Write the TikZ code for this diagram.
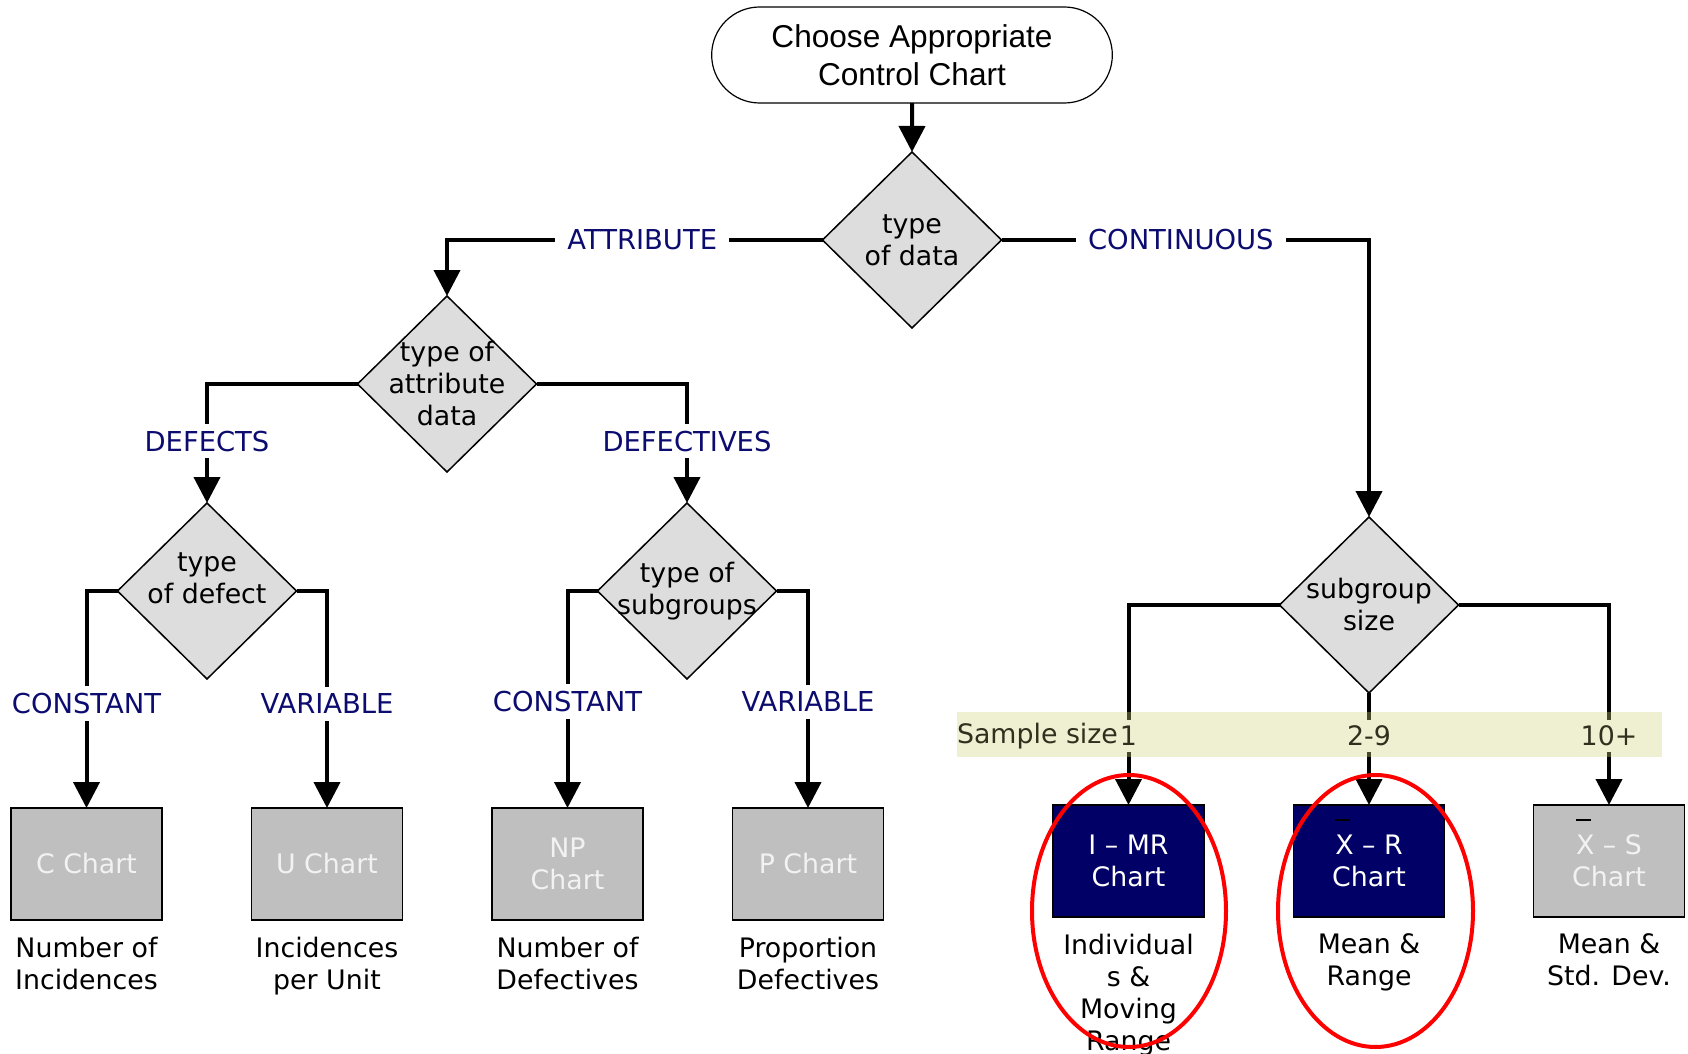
\documentclass[tikz,border=0pt]{standalone}
\usepackage{fontspec}
\setmainfont{DejaVu Sans}
\newfontfamily\arialfont{Liberation Sans}
\usetikzlibrary{shapes.geometric,shapes.misc,arrows.meta,positioning}
\definecolor{diafill}{RGB}{221,221,221}
\definecolor{chartgrey}{RGB}{191,191,191}
\definecolor{chartnavy}{RGB}{0,0,102}
\definecolor{lblnavy}{RGB}{12,12,112}
\definecolor{bandbg}{RGB}{239,239,209}
\definecolor{bandink}{RGB}{209,209,126}
\definecolor{bandtext}{RGB}{48,48,30}
\def\meanx{\rlap{\smash{\color{black}\rule[1.25em]{0.54em}{1pt}}}X}

\begin{document}
\begin{tikzpicture}[x=0.5pt, y=-0.5pt,
	every node/.style={font=\fontsize{13.4pt}{16pt}\selectfont, outer sep=0pt},
	start/.style={rounded rectangle, draw, line width=0.6pt, minimum width=207pt, minimum height=48pt, align=center, font=\arialfont\fontsize{15.8pt}{19pt}\selectfont},
	decision/.style={diamond, draw, line width=0.75pt, fill=diafill, minimum width=89.5pt, minimum height=88pt, inner sep=0pt},
	dtext/.style={align=center, inner sep=0pt, text=black},
	chart/.style={rectangle, draw, line width=0.8pt, fill=chartgrey, text=white!95!black, minimum width=75.5pt, minimum height=56pt, align=center, inner sep=0pt},
	keychart/.style={chart, fill=chartnavy, text=white},
	desc/.style={below=8.5pt of #1, align=center, inner sep=0pt},
	link/.style={line width=2pt, -{Triangle[length=13pt, width=13pt]}},
	lbl/.style={fill=white, text=lblnavy, inner xsep=6pt, inner ysep=3.5pt, font=\fontsize{13.7pt}{16pt}\selectfont},
	bandlbl/.style={fill=bandbg, text=bandtext, inner xsep=1pt, inner ysep=3pt},
	hilite/.style={draw=red, line width=2pt}]
			%%%%% START %%%%%
			\useasboundingbox (0,0) rectangle (1688,1054);
			
			\node[start] (start) at (912,55) {Choose Appropriate\\Control Chart};
			
			\node[decision, label={[dtext]center:type\\of data}] (data) at (912,240) {};
			\node[decision, label={[dtext]center:type of\\attribute\\data}] (attr) at (447,384) {};
			\node[decision, label={[dtext, yshift=6.5pt]center:type\\of defect}] (defect) at (207,591) {};
			\node[decision, label={[dtext]center:type of\\subgroups}] (subgrp) at (687,591) {};
			\node[decision, label={[dtext]center:subgroup\\size}] (size) at (1369,605) {};
			
			\node[chart] (c) at (86.5,864) {C Chart};
			\node[chart] (u) at (327,864) {U Chart};
			\node[chart] (np) at (567.5,864) {NP\\Chart};
			\node[chart] (p) at (808,864) {P Chart};
			\node[keychart] (imr) at (1128.5,861) {I – MR\\Chart};
			\node[keychart] (xr) at (1369,861) {\meanx{} – R\\Chart};
			\node[chart] (xs) at (1609,861) {\meanx{} – S\\Chart};
			
			\node[desc=c] (cdesc) {Number of\\Incidences};
			\node[desc=u] (udesc) {Incidences\\per Unit};
			\node[desc=np] (npdesc) {Number of\\Defectives};
			\node[desc=p] (pdesc) {Proportion\\Defectives};
			\node[desc=imr] (imrdesc) {Individual\\s \&\\Moving\\Range};
			\node[desc=xr] (xrdesc) {Mean \&\\Range};
			\node[desc=xs] (xsdesc) {Mean \&\\Std. Dev.};
			
			\draw[link] (start) -- (data);
			\draw[link] (data.west) -| node[lbl, pos=0.24] {ATTRIBUTE} (attr.north);
			\draw[link] (data.east) -| node[lbl, pos=0.244] {CONTINUOUS} (size.north);
			\draw[link] (attr.west) -| node[lbl, pos=0.74] {DEFECTS} (defect.north);
			\draw[link] (attr.east) -| node[lbl, pos=0.74] {DEFECTIVES} (subgrp.north);
			\draw[link] (defect.west) -| node[lbl, pos=0.76] {CONSTANT} (c.north);
			\draw[link] (defect.east) -| node[lbl, pos=0.76] {VARIABLE} (u.north);
			\draw[link] (subgrp.west) -| node[lbl, pos=0.755] {CONSTANT} (np.north);
			\draw[link] (subgrp.east) -| node[lbl, pos=0.755] {VARIABLE} (p.north);
			\draw[link] (size.west) -| (imr.north);
			\draw[link] (size) -- (xr);
			\draw[link] (size.east) -| (xs.north);
			
			\fill[bandink, fill opacity=0.35] (957,712) rectangle (1662,757);
			\node[bandlbl, fill=none, inner xsep=0pt, anchor=west] (sample) at (957,736) {Sample size};
			\node[bandlbl] (one) at (1128.5,736) {1};
			\node[bandlbl] (two) at (1369,736) {2-9};
			\node[bandlbl] (ten) at (1609,736) {10+};
			
			\draw[hilite] (1129,911) ellipse [x radius=48.5pt, y radius=68pt];
			\draw[hilite] (1375.5,911) ellipse [x radius=48.75pt, y radius=68pt];
			%%%%% END %%%%%
\end{tikzpicture}
\end{document}
